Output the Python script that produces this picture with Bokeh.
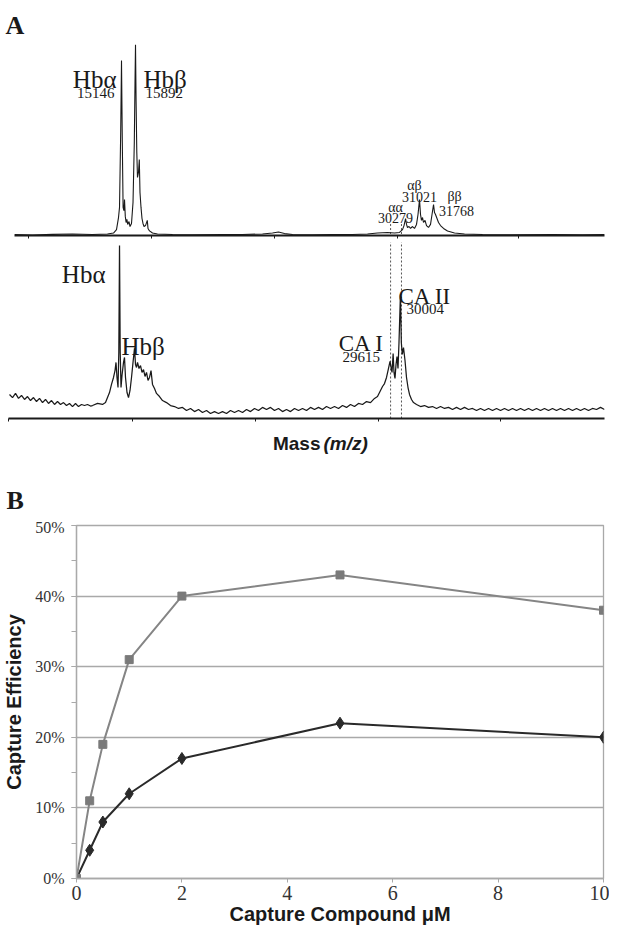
from bokeh.plotting import figure
from bokeh.layouts import column
from bokeh.models import Range1d, FixedTicker, Label, PrintfTickFormatter, SingleIntervalTicker
from bokeh.embed import file_html
from bokeh.resources import INLINE

SERIF = "Liberation Serif"
SANS = "Liberation Sans"

# ---------------- Panel A data (mass in Da, intensity in % of base peak) ----------------
top_mass = [9446, 10405, 11470, 12536, 13601, 14400, 14720, 14880, 14986, 15040, 15103, 15146,
            15189, 15231, 15274, 15306, 15348, 15391, 15434, 15476, 15546, 15599, 15679, 15759,
            15828, 15865, 15892, 15924, 15961, 15998, 16050, 16094, 16131, 16185, 16238, 16291,
            16345, 16425, 16520, 16558, 16638, 16797, 17064, 17863, 18928, 20526, 21592, 22657,
            23190, 23509, 23829, 24255, 25320, 26386, 27451, 28250, 28783, 29316, 29689, 29955,
            30115, 30195, 30279, 30328, 30381, 30461, 30541, 30648, 30754, 30861, 30941, 31021,
            31074, 31127, 31181, 31234, 31314, 31394, 31500, 31607, 31687, 31768, 31820, 31873,
            31953, 32033, 32140, 32300, 32513, 32886, 33418, 34377, 35975, 38106, 39704, 40875]
top_int = [0.5, 0.3, 0.6, 0.8, 0.5, 0.8, 1.3, 3.1, 9.4, 14.7, 54.0, 91.6,
           48.7, 14.7, 13.0, 18.8, 10.0, 6.8, 8.4, 5.8, 7.3, 4.7, 6.3, 17.3,
           48.7, 80.0, 100.0, 69.6, 43.5, 30.4, 33.0, 39.8, 22.5, 14.7, 8.9, 6.3,
           4.7, 5.2, 7.9, 3.7, 2.4, 1.3, 0.8, 0.5, 0.4, 0.5, 0.5, 0.8,
           1.3, 1.8, 1.0, 0.5, 0.4, 0.5, 0.5, 0.8, 1.3, 1.6, 1.3, 1.6,
           3.1, 5.2, 8.9, 5.8, 4.2, 4.7, 3.7, 4.7, 3.7, 5.8, 11.0, 18.8,
           11.0, 7.9, 9.4, 6.8, 7.9, 5.2, 4.2, 5.8, 11.0, 16.2, 12.0, 11.0,
           8.9, 6.8, 5.2, 3.7, 2.4, 1.3, 0.8, 0.5, 0.4, 0.5, 0.4, 0.5]

bot_mass = [9180, 9340, 9499, 9659, 9819, 9979, 10139, 10298, 10458, 10618, 10778, 10938,
            11098, 11257, 11417, 11577, 11737, 11897, 12056, 12216, 12376, 12536, 12696, 12855,
            13015, 13175, 13335, 13495, 13601, 13868, 14134, 14294, 14400, 14507, 14613, 14720,
            14800, 14853, 14906, 14960, 15002, 15040, 15077, 15120, 15173, 15253, 15306, 15359,
            15439, 15519, 15599, 15679, 15759, 15839, 15892, 15945, 15999, 16078, 16158, 16238,
            16318, 16398, 16478, 16558, 16638, 16718, 16797, 16904, 17010, 17170, 17330, 17543,
            17756, 17970, 18183, 18396, 18609, 18822, 19035, 19248, 19461, 19674, 19887, 20100,
            20313, 20526, 20739, 20953, 21166, 21379, 21592, 21805, 22018, 22231, 22444, 22657,
            22870, 23083, 23296, 23509, 23722, 23935, 24149, 24362, 24575, 24788, 25001, 25214,
            25427, 25640, 25853, 26066, 26279, 26493, 26706, 26919, 27132, 27345, 27558, 27771,
            27984, 28197, 28410, 28623, 28783, 28943, 29050, 29156, 29263, 29369, 29449, 29556,
            29615, 29662, 29715, 29769, 29822, 29875, 29928, 30004, 30052, 30105, 30168, 30248,
            30328, 30408, 30488, 30595, 30701, 30861, 31074, 31287, 31500, 31713, 31927, 32140,
            32353, 32566, 32779, 32992, 33205, 33418, 33631, 33844, 34057, 34270, 34483, 34697,
            34910, 35123, 35336, 35549, 35762, 35975, 36188, 36401, 36614, 36827, 37040, 37253,
            37466, 37679, 37892, 38105, 38318, 38531, 38745, 38958, 39171, 39384, 39597, 39810,
            40023, 40236, 40449, 40662, 40875]
bot_int = [13.9, 12.1, 14.5, 11.6, 13.3, 11.0, 12.7, 10.4, 12.1, 9.8, 11.6, 9.2,
           11.0, 8.7, 10.4, 8.1, 9.8, 8.1, 9.2, 7.5, 8.7, 6.9, 8.7, 6.9,
           8.1, 7.5, 8.1, 7.2, 7.5, 8.7, 8.1, 9.2, 12.1, 15.0, 19.7, 23.7,
           27.7, 32.4, 23.7, 17.9, 38.2, 100.0, 38.2, 17.9, 24.9, 32.4, 35.3, 23.7,
           15.0, 12.1, 16.2, 23.7, 32.4, 40.5, 31.2, 29.5, 32.4, 28.9, 30.6, 26.6,
           28.3, 24.3, 26.6, 22.0, 23.7, 27.7, 19.7, 17.3, 14.5, 12.7, 10.4, 9.2,
           7.5, 6.9, 5.8, 6.4, 4.6, 5.8, 4.0, 5.2, 3.5, 4.6, 2.9, 4.0,
           2.9, 4.0, 2.9, 4.6, 3.5, 4.6, 3.5, 5.2, 4.0, 5.8, 4.6, 6.4,
           5.2, 6.4, 4.6, 5.8, 4.0, 5.2, 4.0, 5.8, 4.6, 5.8, 4.6, 6.4,
           5.2, 6.4, 5.2, 6.9, 5.8, 6.9, 5.8, 7.5, 6.4, 8.1, 6.9, 8.7,
           8.1, 9.8, 9.2, 11.6, 12.7, 16.2, 18.5, 20.2, 23.7, 28.9, 33.0, 26.6,
           37.6, 26.6, 23.1, 31.2, 35.8, 28.9, 43.9, 71.7, 43.9, 37.0, 41.0, 33.5,
           23.7, 17.9, 13.9, 11.0, 9.2, 8.1, 6.9, 7.5, 6.4, 6.9, 5.8, 6.9,
           5.8, 6.4, 5.2, 6.4, 5.2, 6.4, 5.2, 5.8, 4.6, 5.8, 4.6, 5.8,
           4.6, 5.8, 4.6, 5.8, 4.6, 5.8, 4.6, 5.8, 4.6, 5.8, 4.6, 5.8,
           4.6, 5.8, 4.6, 5.8, 4.6, 5.8, 4.6, 5.8, 4.6, 5.8, 4.6, 5.8,
           4.6, 5.8, 5.2, 6.4, 5.2]

top_ticks = [10190, 16740, 23300, 29850, 36300]
bot_ticks = [9130, 15730, 22280, 28840, 35340]
guide_mass = [29480, 30060]

hb_names = ["Hbα", "Hbβ"]
hb_mass = [15146, 15892]
dimer_names = ["αα", "αβ", "ββ"]
dimer_mass = [30279, 31021, 31768]
ca_names = ["CA I", "CA II"]
ca_mass = [29615, 30004]

# ---------------- Panel B data ----------------
conc = [0, 0.25, 0.5, 1, 2, 5, 10]
eff_gray = [0, 11, 19, 31, 40, 43, 38]
eff_black = [0, 4, 8, 12, 17, 22, 20]
x_ticks = [0, 2, 4, 6, 8, 10]

INK = "#1a1a1a"
W = 609


def lab(p, text, x, y, size, align="left", xoff=0, font=SERIF, style="normal"):
    p.add_layout(Label(x=x, y=y, text=text, text_font=font,
                       text_font_size=f"{size}px", text_font_style=style, text_align=align,
                       text_baseline="alphabetic", x_offset=xoff, text_color=INK))


def spectrum_axis(p, ticks):
    ax = p.xaxis[0]
    ax.ticker = FixedTicker(ticks=ticks, minor_ticks=[])
    ax.axis_line_width = 2
    ax.axis_line_color = INK
    ax.major_tick_line_color = INK
    ax.major_tick_out = 3
    ax.major_tick_in = 0
    ax.major_label_text_color = None
    ax.major_label_text_font_size = "1px"
    ax.major_label_standoff = 0


def clean(p):
    p.xgrid.visible = False
    p.ygrid.visible = False
    p.outline_line_color = None
    p.background_fill_color = "white"
    p.border_fill_color = "white"


def text_strip(h):
    s = figure(width=W, height=h, x_range=Range1d(0, W), y_range=Range1d(0, h), title=None,
               output_backend="svg", toolbar_location=None, x_axis_location=None,
               y_axis_location=None, frame_align=False,
               min_border_left=0, min_border_right=0, min_border_top=0, min_border_bottom=0)
    clean(s)
    return s


# ---- panel letter A ----
sA = text_strip(42)
lab(sA, "A", 5, 17, 26, style="bold")

# ---- top spectrum ----
pt = figure(width=W, height=198, x_range=Range1d(9446, 40875), y_range=Range1d(0, 100),
            title=None, output_backend="svg", toolbar_location=None, y_axis_location=None,
            frame_align=False,
            min_border_left=14, min_border_right=5, min_border_top=2, min_border_bottom=5)
clean(pt)
spectrum_axis(pt, top_ticks)
pt.segment(x0=guide_mass, x1=guide_mass, y0=[6] * 2, y1=[-3] * 2, line_color="#555555",
           line_width=1, line_dash="2 2")
pt.line(top_mass, top_int, line_color=INK, line_width=1.1)
lab(pt, hb_names[0], hb_mass[0], 81.7, 25, "right", -5)
lab(pt, str(hb_mass[0]), hb_mass[0], 74.6, 15, "right", -7)
lab(pt, hb_names[1], hb_mass[1], 81.7, 25, "left", 8)
lab(pt, str(hb_mass[1]), hb_mass[1], 74.6, 15, "left", 10)
lab(pt, dimer_names[0], dimer_mass[0], 14.7, 14, "center", -10)
lab(pt, str(dimer_mass[0]), dimer_mass[0], 9.4, 14, "center", -10)
lab(pt, dimer_names[1], dimer_mass[1], 26.2, 14, "center", -5)
lab(pt, str(dimer_mass[1]), dimer_mass[1], 20.4, 14, "center", 0)
lab(pt, dimer_names[2], dimer_mass[2], 20.4, 14, "center", 21)
lab(pt, str(dimer_mass[2]), dimer_mass[2], 12.6, 14, "center", 23)

# ---- bottom spectrum ----
pb = figure(width=W, height=186, x_range=Range1d(9126, 40875), y_range=Range1d(0, 101.7),
            title=None, output_backend="svg", toolbar_location=None, y_axis_location=None,
            frame_align=False,
            min_border_left=8, min_border_right=5, min_border_top=2, min_border_bottom=8)
clean(pb)
spectrum_axis(pb, bot_ticks)
pb.segment(x0=guide_mass, x1=guide_mass, y0=[0] * 2, y1=[110] * 2, line_color="#555555",
           line_width=1, line_dash="2 2")
pb.line(bot_mass, bot_int, line_color=INK, line_width=1.25)
lab(pb, hb_names[0], hb_mass[0], 83.2, 25, "right", -16)
lab(pb, hb_names[1], hb_mass[1], 41.6, 25, "left", -14)
lab(pb, ca_names[0], ca_mass[0], 43.4, 23, "right", -9)
lab(pb, str(ca_mass[0]), ca_mass[0], 35.8, 15, "right", -13)
lab(pb, ca_names[1], ca_mass[1], 70.5, 23, "left", -2)
lab(pb, str(ca_mass[1]), ca_mass[1], 63.0, 15, "left", 6)

# ---- axis title of panel A and panel letter B ----
sM = text_strip(92)
lab(sM, "Mass", 320, 75, 19, "right", font=SANS, style="bold")
lab(sM, "(m/z)", 323, 75, 19, "left", font=SANS, style="bold italic")
lab(sM, "B", 6, 18, 26, style="bold")

# ---- Panel B ----
GRID = "#a9a9a9"
p = figure(width=W, height=413, x_range=Range1d(0, 10), y_range=Range1d(0, 50),
           title=None, output_backend="svg", toolbar_location=None, frame_align=False,
           min_border_left=73, min_border_right=6, min_border_top=7, min_border_bottom=53)
p.background_fill_color = "white"
p.border_fill_color = "white"
p.outline_line_color = GRID
p.outline_line_width = 1.3
p.xgrid.visible = False
yt = SingleIntervalTicker(interval=10, num_minor_ticks=2)
p.yaxis.ticker = yt
p.ygrid.ticker = yt
p.ygrid.grid_line_color = GRID
p.ygrid.grid_line_width = 1.3
p.yaxis.formatter = PrintfTickFormatter(format="%d%%")
p.xaxis.ticker = FixedTicker(ticks=x_ticks, minor_ticks=[])
for ax in (p.xaxis[0], p.yaxis[0]):
    ax.axis_line_color = GRID
    ax.axis_line_width = 1.3
    ax.major_tick_line_color = GRID
    ax.minor_tick_line_color = GRID
    ax.major_tick_in = 0
    ax.minor_tick_in = 0
    ax.major_label_text_font = SERIF
    ax.major_label_text_color = "#333333"
    ax.axis_label_text_font = SANS
    ax.axis_label_text_font_style = "bold"
    ax.axis_label_text_font_size = "20px"
    ax.axis_label_text_color = INK
p.xaxis.major_tick_out = 4
p.xaxis.major_label_standoff = 3
p.xaxis.major_label_text_font_size = "20px"
p.xaxis.axis_label = "Capture Compound μM"
p.xaxis.axis_label_standoff = 0
p.yaxis.major_tick_out = 5
p.yaxis.minor_tick_out = 5
p.yaxis.major_label_standoff = 7
p.yaxis.major_label_text_font_size = "16px"
p.yaxis.axis_label = "Capture Efficiency"
p.yaxis.axis_label_standoff = 7

p.line(conc, eff_black, line_color="#2a2a2a", line_width=2)
p.scatter(conc, eff_black, marker="diamond", size=12, fill_color="#2a2a2a", line_color="#2a2a2a")
p.line(conc, eff_gray, line_color="#858585", line_width=2)
p.scatter(conc, eff_gray, marker="square", size=8, fill_color="#7a7a7a", line_color="#7a7a7a")

layout = column(sA, pt, pb, sM, p, spacing=0)
open("out.html", "w").write(file_html(layout, INLINE))
